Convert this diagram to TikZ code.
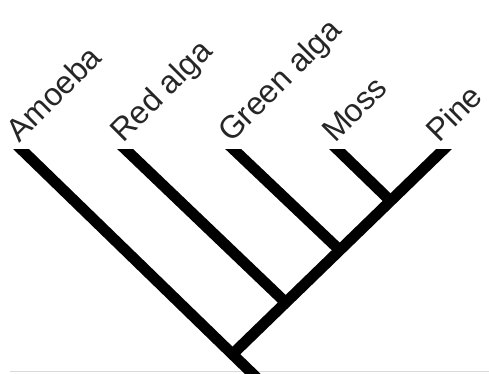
\documentclass[tikz,border=0pt]{standalone}
\usepackage{fontspec}
\setmainfont{Liberation Sans}
\begin{document}
\begin{tikzpicture}[x=1pt,y=-1pt,
  branch/.style={line width=11pt, line cap=butt, draw=black},
  taxon/.style={rotate=45, anchor=base west, inner sep=0pt, font=\fontsize{32}{36}\selectfont, text=black!85}]
\useasboundingbox (0,0) rectangle (489,374);
% tips and extensions (clipped at y=150)
\coordinate (eA) at (12,140.3);
\coordinate (eR) at (116,140.3);
\coordinate (eG) at (224,140.3);
\coordinate (eM) at (328,140.3);
\coordinate (eP) at (453,140.3);
% junctions
\coordinate (jM) at (390.5,200.9);
\coordinate (jG) at (338.5,249.0);
\coordinate (jR) at (284.5,301.4);
\coordinate (root) at (232.5,354.2);
\coordinate (bot) at (259,380);
\draw[gray!30, line width=1pt] (10,371) -- (489,371);
\begin{scope}
\clip (0,150) rectangle (489,374);
\draw[branch] (eA) -- (bot);
\draw[branch] (eP) -- (root);
\draw[branch] (eR) -- (jR);
\draw[branch] (eG) -- (jG);
\draw[branch] (eM) -- (jM);
\end{scope}
\node[taxon] (lA) at (19,144) {Amoeba};
\node[taxon] (lR) at (123,144) {Red alga};
\node[taxon] (lG) at (231,144) {Green alga};
\node[taxon] (lM) at (335,144) {Moss};
\node[taxon] (lP) at (439,144) {Pine};
\end{tikzpicture}
\end{document}
